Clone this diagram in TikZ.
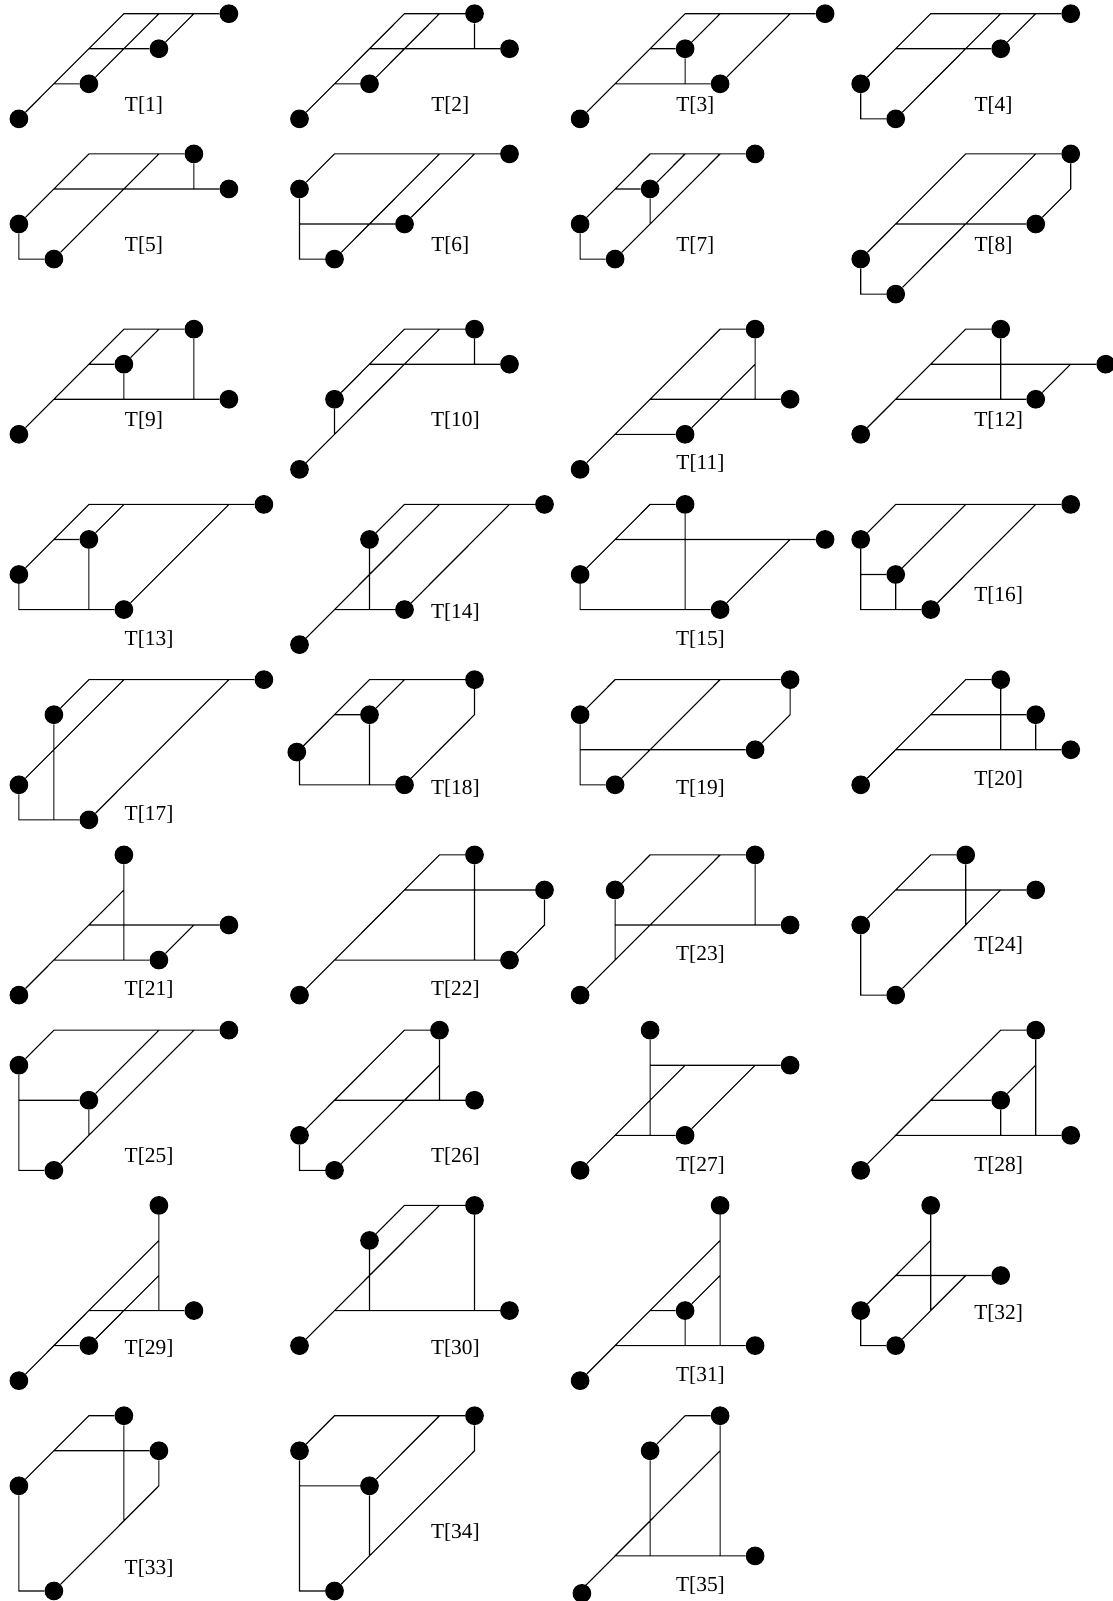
\documentclass[tikz,border=0pt]{standalone}
\usepackage{fontspec}
\setmainfont{Liberation Serif}
\tikzset{
  dot/.style={circle,fill=black,draw=none,inner sep=0pt,minimum size=18.7pt},
  conn/.style={draw=black,line width=1.1pt,line join=miter},
  tlabel/.style={inner sep=0pt,font=\fontsize{21.4}{24}\selectfont}
}
\newcommand{\TreeFig}[7]{%
  \begin{scope}[shift={({18.9+280.6*#2},{-13.7-35.05*#3})},x=35pt,y=-35.05pt,name prefix=T#1-]
    \foreach \i in {0,...,7}{\foreach \j in {0,...,5}{\coordinate (p\i\j) at (\i,\j);}}
    \foreach \c in {#4}{\node[dot] (\c) at (\c) {};}
    \draw[conn] #5;
  \end{scope}
  \node[tlabel] (L#1) at ({#6*1.0211+1},{-#7*1.0211-2}) {T[#1]};
}
\begin{document}
\begin{tikzpicture}[x=1pt,y=1pt]
\useasboundingbox (0,0) rectangle (1112,-1601);
% row 1
\TreeFig{1}{0}{0}{p60,p41,p22,p03}{(p03)--(p30)--(p60) (p22)--(p40) (p41)--(p50) (p12)--(p22) (p21)--(p41)}{140}{101}
\TreeFig{2}{1}{0}{p50,p61,p22,p03}{(p03)--(p30)--(p50) (p22)--(p40) (p12)--(p22) (p21)--(p61) (p50)--(p51)}{440}{101}
\TreeFig{3}{2}{0}{p70,p31,p42,p03}{(p03)--(p30)--(p70) (p31)--(p40) (p42)--(p60) (p21)--(p31) (p12)--(p42) (p31)--(p32)}{680}{101}
\TreeFig{4}{3}{0}{p60,p41,p02,p13}{(p02)--(p20)--(p60) (p13)--(p40) (p41)--(p50) (p11)--(p41) (p02)--(p03)--(p13)}{972}{101}
% row 2
\TreeFig{5}{0}{4}{p50,p61,p02,p13}{(p02)--(p20)--(p50) (p13)--(p40) (p11)--(p61) (p50)--(p51) (p02)--(p03)--(p13)}{140}{238}
\TreeFig{6}{1}{4}{p60,p01,p32,p13}{(p01)--(p10)--(p60) (p13)--(p40) (p32)--(p50) (p01)--(p03)--(p13) (p02)--(p32)}{440}{238}
\TreeFig{7}{2}{4}{p50,p21,p02,p13}{(p02)--(p20)--(p50) (p21)--(p30) (p13)--(p40) (p11)--(p21) (p21)--(p22) (p02)--(p03)--(p13)}{680}{238}
\TreeFig{8}{3}{4}{p60,p52,p03,p14}{(p03)--(p30)--(p60) (p14)--(p50) (p12)--(p52) (p52)--(p61)--(p60) (p03)--(p04)--(p14)}{972}{238}
% row 3
\TreeFig{9}{0}{9}{p50,p31,p62,p03}{(p03)--(p30)--(p50) (p31)--(p40) (p21)--(p31) (p12)--(p62) (p31)--(p32) (p50)--(p52)}{140}{410}
\TreeFig{10}{1}{9}{p50,p61,p12,p04}{(p12)--(p30)--(p50) (p04)--(p40) (p21)--(p61) (p50)--(p51) (p12)--(p13)}{445}{410}
\TreeFig{11}{2}{9}{p50,p62,p33,p04}{(p04)--(p40)--(p50) (p33)--(p51) (p50)--(p52) (p22)--(p62) (p13)--(p33)}{685}{452}
\TreeFig{12}{3}{9}{p40,p71,p52,p03}{(p03)--(p30)--(p40) (p52)--(p61) (p21)--(p71) (p12)--(p52) (p40)--(p42)}{977}{410}
% row 4
\TreeFig{13}{0}{14}{p70,p21,p02,p33}{(p02)--(p20)--(p70) (p21)--(p30) (p33)--(p60) (p11)--(p21) (p21)--(p23) (p02)--(p03)--(p33)}{145}{624}
\TreeFig{14}{1}{14}{p70,p21,p33,p04}{(p21)--(p30)--(p70) (p04)--(p40) (p33)--(p60) (p13)--(p33) (p21)--(p23)}{445}{598}
\TreeFig{15}{2}{14}{p30,p71,p02,p43}{(p02)--(p20)--(p30) (p11)--(p71) (p43)--(p61) (p30)--(p33) (p02)--(p03)--(p43)}{685}{624}
\TreeFig{16}{3}{14}{p60,p01,p12,p23}{(p01)--(p10)--(p60) (p12)--(p30) (p23)--(p50) (p02)--(p12) (p12)--(p13) (p01)--(p03)--(p23)}{977}{581}
% row 5
\TreeFig{17}{0}{19}{p70,p11,p03,p24}{(p11)--(p20)--(p70) (p03)--(p30) (p24)--(p60) (p11)--(p14) (p03)--(p04)--(p24)}{145}{796}
\TreeFig{18}{1}{19}{p50,p21,p33}{(p02)--(p20)--(p50) (p21)--(p30) (p11)--(p21) (p21)--(p23) (p02)--(p03)--(p33) (p33)--(p51)--(p50)}{445}{770}
\node[dot] (T18-left) at ([shift={(-2.7,-2.3)}]T18-p02) {};
\TreeFig{19}{2}{19}{p60,p01,p52,p13}{(p01)--(p10)--(p60) (p13)--(p40) (p02)--(p52) (p01)--(p03)--(p13) (p52)--(p61)--(p60)}{685}{770}
\TreeFig{20}{3}{19}{p40,p51,p62,p03}{(p03)--(p30)--(p40) (p21)--(p51) (p12)--(p62) (p40)--(p42) (p51)--(p52)}{977}{761}
% row 6
\TreeFig{21}{0}{24}{p30,p62,p43,p04}{(p04)--(p31) (p30)--(p33) (p22)--(p62) (p13)--(p43) (p43)--(p52)}{145}{967}
\TreeFig{22}{1}{24}{p50,p71,p63,p04}{(p04)--(p40)--(p50) (p31)--(p71) (p13)--(p63) (p50)--(p53) (p63)--(p72)--(p71)}{445}{967}
\TreeFig{23}{2}{24}{p50,p11,p62,p04}{(p11)--(p20)--(p50) (p04)--(p40) (p11)--(p13) (p12)--(p62) (p50)--(p52)}{685}{933}
\TreeFig{24}{3}{24}{p30,p51,p02,p14}{(p02)--(p20)--(p30) (p11)--(p51) (p30)--(p32) (p14)--(p41) (p02)--(p04)--(p14)}{977}{924}
% row 7
\TreeFig{25}{0}{29}{p60,p01,p22,p14}{(p01)--(p10)--(p60) (p22)--(p40) (p14)--(p50) (p02)--(p22) (p22)--(p23) (p01)--(p04)--(p14)}{145}{1131}
\TreeFig{26}{1}{29}{p40,p52,p03,p14}{(p03)--(p30)--(p40) (p14)--(p41) (p40)--(p42) (p12)--(p52) (p03)--(p04)--(p14)}{445}{1131}
\TreeFig{27}{2}{29}{p20,p61,p33,p04}{(p04)--(p31) (p20)--(p23) (p21)--(p61) (p13)--(p33) (p33)--(p51)}{685}{1139}
\TreeFig{28}{3}{29}{p50,p42,p63,p04}{(p04)--(p40)--(p50) (p42)--(p51) (p50)--(p53) (p22)--(p42) (p13)--(p63) (p42)--(p43)}{977}{1139}
% row 8
\TreeFig{29}{0}{34}{p40,p53,p24,p05}{(p05)--(p41) (p24)--(p42) (p40)--(p43) (p23)--(p53) (p14)--(p24)}{145}{1319}
\TreeFig{30}{1}{34}{p50,p21,p63,p04}{(p21)--(p30)--(p50) (p04)--(p40) (p13)--(p63) (p21)--(p23) (p50)--(p53)}{445}{1319}
\TreeFig{31}{2}{34}{p40,p33,p54,p05}{(p05)--(p41) (p33)--(p42) (p40)--(p44) (p23)--(p33) (p14)--(p54) (p33)--(p34)}{685}{1345}
\TreeFig{32}{3}{34}{p20,p42,p03,p14}{(p03)--(p21) (p20)--(p23) (p12)--(p42) (p14)--(p32) (p03)--(p04)--(p14)}{977}{1284}
% row 9
\TreeFig{33}{0}{40}{p30,p41,p02,p15}{(p02)--(p20)--(p30) (p11)--(p41) (p30)--(p33) (p02)--(p05)--(p15) (p15)--(p42)--(p41)}{145}{1534}
\TreeFig{34}{1}{40}{p50,p01,p22,p15}{(p01)--(p10)--(p50) (p22)--(p40) (p02)--(p22) (p22)--(p24) (p01)--(p05)--(p15) (p15)--(p51)--(p50)}{445}{1499}
\TreeFig{35}{2}{40}{p40,p21,p54}{(p21)--(p30)--(p40) (p05)--(p41) (p21)--(p24) (p40)--(p44) (p14)--(p54)}{685}{1551}
\node[dot] (T35-left) at ([shift={(1.8,-2.4)}]T35-p05) {};
\end{tikzpicture}
\end{document}
